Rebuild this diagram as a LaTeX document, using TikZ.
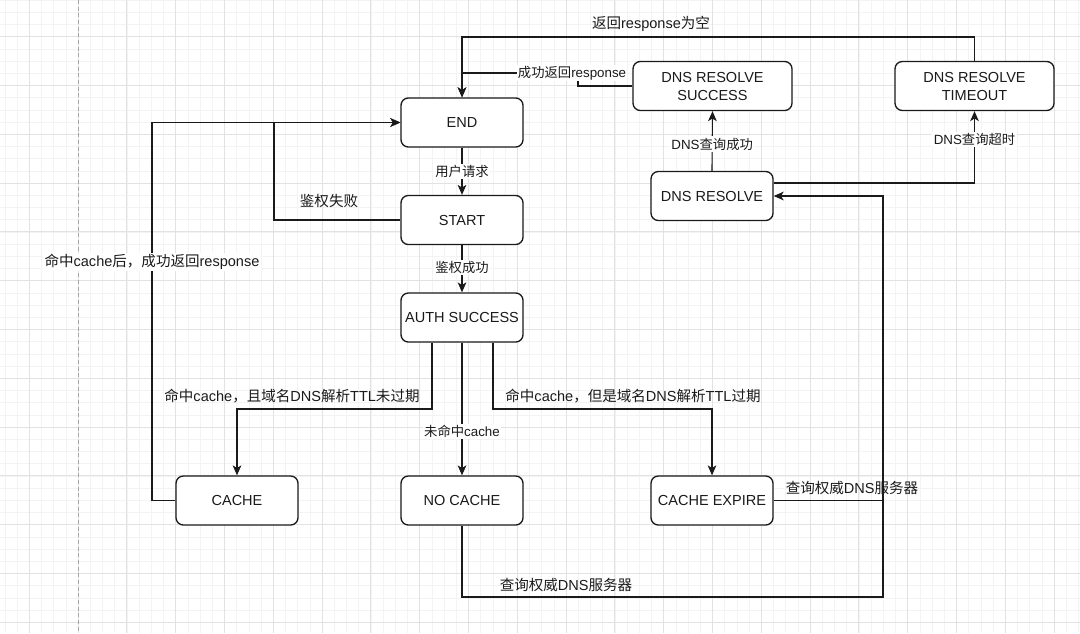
\documentclass[tikz,border=0pt]{standalone}
\usepackage{fontspec}
\setmainfont{Liberation Sans}
\newfontfamily\cjk{Noto Sans CJK SC}
\newcommand\zh[1]{{\cjk #1}}
\usetikzlibrary{arrows.meta,calc}
\definecolor{gridminor}{HTML}{F3F3F3}
\definecolor{gridmajor}{HTML}{E2E2E2}
\definecolor{ink}{HTML}{1A1A1A}
\tikzset{
  box/.style={draw=ink, line width=1pt, rounded corners=5.5pt, fill=white,
    minimum width=91.5pt, minimum height=36.75pt, inner sep=0pt, align=center,
    text=ink, font=\fontsize{10.9}{13.5}\selectfont},
  conn/.style={draw=ink, line width=0.85pt},
  arr/.style={conn, -{Stealth[length=7.5pt,width=6.5pt,inset=2pt]}},
  lbl/.style={fill=white, inner sep=1pt, text=ink, font=\fontsize{10}{12}\selectfont},
  biglbl/.style={inner sep=1pt, text=ink, font=\fontsize{10.9}{13}\selectfont},
}
\begin{document}
\begin{tikzpicture}[x=0.75pt,y=-0.75pt]
\useasboundingbox (0,0) rectangle (1080,633);
\fill[white] (0,0) rectangle (1080,633);
% grid
\foreach \i in {-2,...,86} \draw[gridminor, line width=0.6pt] ({29.3+\i*12.2},0) -- ({29.3+\i*12.2},633);
\foreach \j in {-3,...,49} \draw[gridminor, line width=0.6pt] (0,{36.7+\j*12.2}) -- (1080,{36.7+\j*12.2});
\foreach \i in {-1,...,21} \draw[gridmajor, line width=0.75pt] ({29.3+\i*48.8},0) -- ({29.3+\i*48.8},633);
\foreach \j in {-1,...,12} \draw[gridmajor, line width=0.75pt] (0,{36.7+\j*48.8}) -- (1080,{36.7+\j*48.8});
\draw[gray!70, dashed, dash pattern=on 3pt off 2pt, line width=0.6pt] (78.7,0) -- (78.7,633);

% nodes
\node[box] (end) at (462,122.5) {END};
\node[box] (start) at (462,220) {START};
\node[box] (auth) at (462,317.5) {AUTH SUCCESS};
\node[box] (cache) at (237,500.5) {CACHE};
\node[box] (nocache) at (462,500.5) {NO CACHE};
\node[box] (expire) at (712,500.5) {CACHE EXPIRE};
\node[box] (dnsr) at (712,196) {DNS RESOLVE};
\node[box, minimum width=119.25pt] (succ) at (712.5,86) {DNS RESOLVE\\SUCCESS};
\node[box, minimum width=119.25pt] (timeout) at (974.5,86) {DNS RESOLVE\\TIMEOUT};

% junction coordinates
\coordinate (jfail) at (274,122.5);
\coordinate (jcache) at (152,122.5);
\coordinate (jl) at (237,409);
\coordinate (jr) at (712,409);
\coordinate (jb) at (883,597);
\coordinate (js) at (578,73);
\coordinate (jt) at (462,37);

% connectors
\draw[arr] (end) -- node[lbl]{\zh{用户请求}} (start);
\draw[arr] (start) -- node[lbl, pos=0.47]{\zh{鉴权成功}} (auth);
\draw[arr] (start.west) -| (jfail) -- (end.west);
\node[biglbl] (lfail) at (329,201) {\zh{鉴权失败}};
\draw[arr] (cache.west) -| (jcache) -- (end.west);
\node[biglbl, fill=white] (lcache) at (152,262) {\zh{命中}cache\zh{后，成功返回}response};
\draw[arr] ($(auth.south)+(-30,0)$) |- (jl) -- (cache.north);
\node[biglbl] (lhit) at (292,396) {\zh{命中}cache\zh{，且域名}DNS\zh{解析}TTL\zh{未过期}};
\draw[arr] (auth) -- node[lbl, pos=0.672]{\zh{未命中}cache} (nocache);
\draw[arr] ($(auth.south)+(31,0)$) |- (jr) -- (expire.north);
\node[biglbl] (lexp) at (633,396) {\zh{命中}cache\zh{，但是域名}DNS\zh{解析}TTL\zh{过期}};
\draw[arr] (nocache.south) |- (jb) |- (dnsr.east);
\node[biglbl] (lq1) at (566,585) {\zh{查询权威}DNS\zh{服务器}};
\draw[conn] (expire.east) -- (expire.east -| jb);
\node[biglbl] (lq2) at (852,488) {\zh{查询权威}DNS\zh{服务器}};
\draw[arr] (dnsr.north) -- node[lbl, pos=0.45]{DNS\zh{查询成功}} (succ.south);
\draw[arr] ($(dnsr.east)+(0,-13)$) -| node[lbl, pos=0.8]{DNS\zh{查询超时}} (timeout.south);
\draw[arr] (succ.west) -| (js) -| (end.north);
\node[lbl] (lsucc) at (572,73) {\zh{成功返回}response};
\draw[arr] (timeout.north) |- (jt) -- (end.north);
\node[biglbl] (lnull) at (651,24) {\zh{返回}response\zh{为空}};
\end{tikzpicture}
\end{document}
